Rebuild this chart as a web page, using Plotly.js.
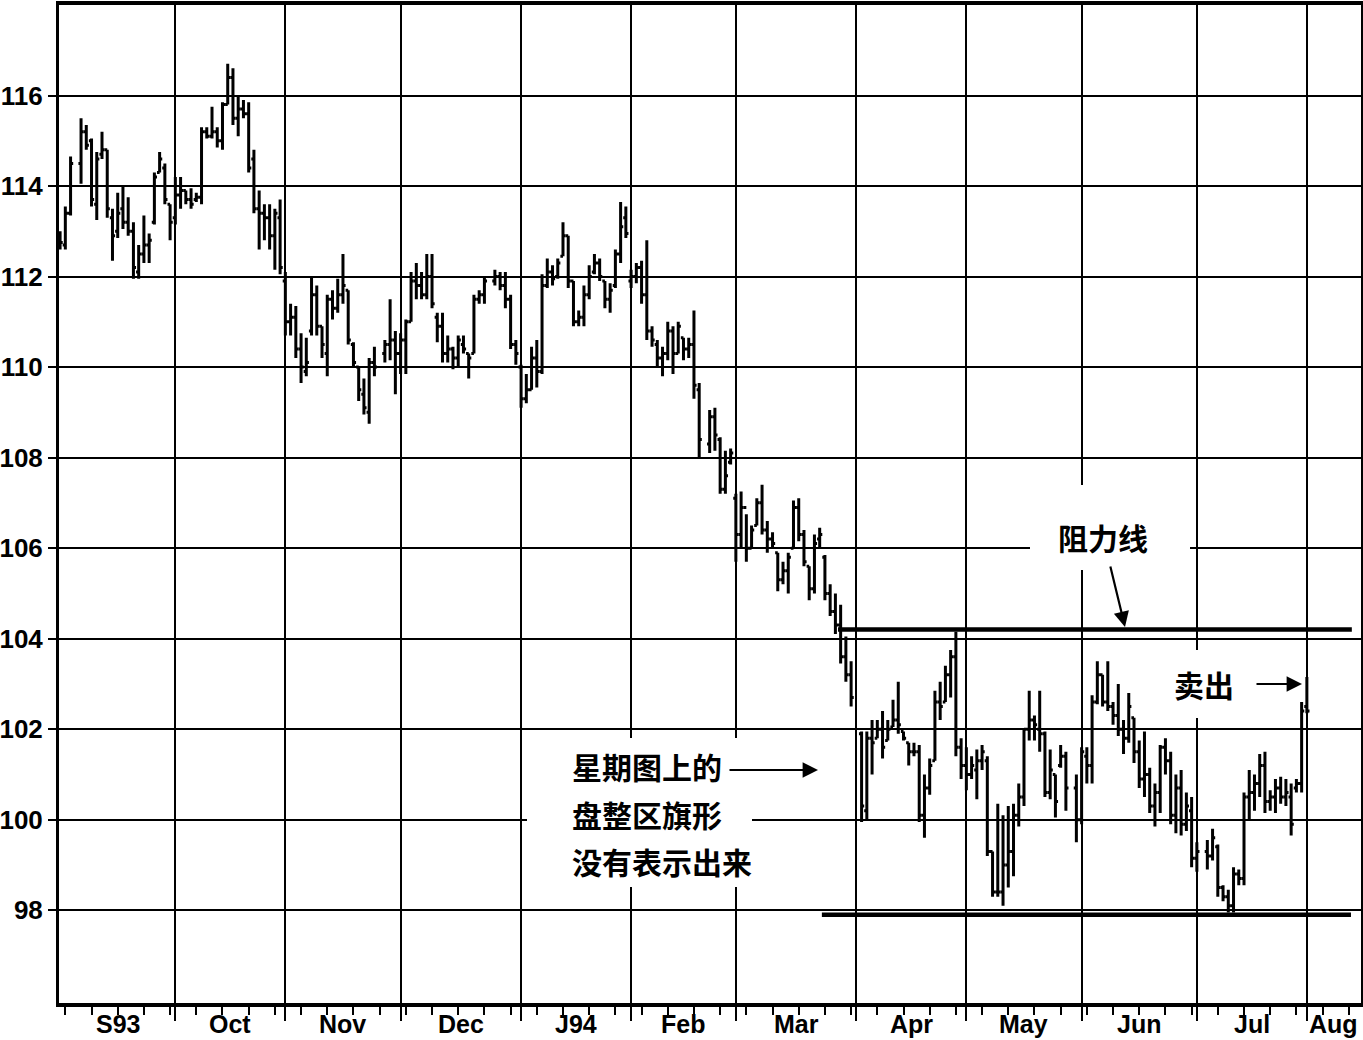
<!DOCTYPE html>
<html>
<head>
<meta charset="utf-8">
<script src="https://cdn.plot.ly/plotly-3.0.1.min.js"></script>
<style>html,body{margin:0;padding:0;background:#fff;}#chart{width:1363px;height:1040px;}</style>
</head>
<body>
<div id="chart"></div>
<script>
// ---------------- DATA (daily bars, Sep 1 1993 .. Aug 1 1994) ----------------
const holidays = ['1993-09-06','1993-11-25','1993-12-24','1994-02-21','1994-04-01','1994-05-30','1994-07-04'];

const openP = [
 // Sep
 112.9,112.7,113.4,114.5,115.2,115.0,113.6,114.7,114.8,113.3,113.0,113.5,113.2,113.0,112.1,112.5,112.7,113.2,114.3,114.4,113.6,
 // Oct
 113.3,113.8,113.9,113.7,113.7,113.75,115.2,115.1,115.2,115.0,115.8,116.4,115.5,115.7,115.6,114.6,113.5,113.4,113.3,112.9,113.3,
 // Nov
 111.9,111.0,111.1,110.4,109.9,110.8,111.6,110.9,110.3,111.5,111.3,111.6,111.7,110.5,110.0,109.4,109.0,110.1,110.3,110.5,110.6,
 // Dec
 110.3,110.6,111.0,111.9,111.8,111.6,112.0,111.1,110.9,110.3,110.4,110.2,110.5,110.3,110.3,111.5,111.6,111.9,112.0,111.8,111.5,110.5,
 // Jan
 110.0,109.3,109.5,110.2,109.9,111.8,112.1,112.0,112.45,112.9,111.9,111.0,111.1,111.6,112.1,112.3,111.9,111.5,111.8,112.5,113.3,
 // Feb
 111.9,112.0,112.2,111.6,110.8,110.5,110.2,110.3,110.8,110.3,110.65,110.4,110.5,109.5,108.3,108.9,108.4,107.3,107.9,
 // Mar
 107.1,106.3,106.9,106.0,106.5,107.0,106.4,106.2,105.9,105.3,105.5,106.0,106.9,106.3,105.6,105.1,106.2,105.8,105.0,104.6,104.3,103.6,103.2,
 // Apr
 101.9,100.2,101.8,101.8,102.0,101.75,102.05,102.2,101.95,101.7,101.5,101.5,100.1,100.7,101.3,102.6,102.6,103.2,103.6,101.6,
 // May
 101.2,101.0,101.1,101.3,101.3,99.3,98.4,98.4,99.0,99.3,100.1,100.5,102.0,102.2,102.0,101.9,100.6,101.0,101.2,101.4,100.7,
 // Jun
 100.0,101.4,101.2,102.6,103.2,102.6,102.5,102.3,102.0,101.8,102.25,101.5,100.9,101.0,100.3,100.6,101.6,101.3,100.1,100.7,99.9,100.2,
 // Jul
 99.15,99.3,99.2,99.4,98.5,98.3,98.1,98.8,98.7,100.5,100.6,100.8,101.2,100.4,100.5,100.7,100.5,100.5,100.7,100.8,
 // Aug
 102.5
];
const highP = [
 113.0,113.55,114.65,115.5,115.35,115.05,114.75,115.2,114.8,113.5,113.85,114.0,113.75,113.2,112.7,113.35,112.95,114.3,114.75,114.5,113.6,
 114.2,114.2,113.9,113.95,113.85,115.3,115.3,115.75,115.3,115.85,116.7,116.6,116.0,115.9,115.85,114.8,113.9,113.6,113.6,113.5,113.7,
 112.1,111.4,111.35,110.75,110.65,112.0,111.8,110.9,111.6,111.7,111.95,112.5,111.7,110.55,110.0,109.75,110.2,110.45,110.6,111.5,110.8,
 110.75,111.05,112.1,112.3,112.1,112.5,112.5,111.2,111.2,110.7,110.45,110.7,110.7,110.3,111.6,111.7,112.0,112.15,112.1,112.1,111.6,110.6,
 110.05,109.85,110.45,110.6,112.05,112.4,112.25,112.4,113.2,112.9,111.9,111.25,111.8,112.25,112.5,112.4,111.9,111.85,112.6,113.65,113.55,
 112.15,112.3,112.35,112.8,110.9,110.6,110.45,111.0,110.9,111.0,110.65,110.65,111.25,109.65,109.05,109.1,108.45,108.15,108.2,
 107.2,107.25,106.75,106.5,107.1,107.4,106.6,106.35,105.9,105.7,105.9,107.05,107.1,106.4,105.6,106.3,106.45,105.85,105.2,105.0,104.75,104.05,103.5,
 101.95,101.95,102.2,102.2,102.4,102.2,102.65,103.05,101.95,101.7,101.7,101.65,101.0,101.35,102.85,103.05,103.4,103.75,104.15,101.8,
 101.6,101.4,101.55,101.65,101.4,99.3,100.35,100.1,100.3,100.35,100.8,102.0,102.85,102.3,102.85,101.95,101.55,101.0,101.65,101.5,101.0,
 101.6,101.6,102.75,103.5,103.2,103.5,102.6,103.0,102.2,102.8,102.25,101.75,101.95,101.15,100.8,101.65,101.8,101.5,101.0,101.1,100.6,100.5,
 99.5,99.55,99.8,99.45,98.55,98.45,98.95,98.9,100.6,101.1,101.0,101.45,101.5,100.65,100.9,100.95,100.9,100.8,100.9,102.6,
 103.15
];
const lowP = [
 112.6,112.6,113.35,114.05,114.8,113.55,113.25,114.6,113.3,112.35,112.85,113.05,112.9,111.95,111.95,112.3,112.3,113.15,114.3,113.6,112.8,
 113.15,113.5,113.6,113.5,113.65,113.6,115.05,115.05,114.85,114.8,115.8,115.35,115.1,115.5,114.3,113.4,112.6,112.8,112.6,112.15,112.05,
 110.7,110.7,110.2,109.65,109.8,110.7,110.7,110.2,109.8,111.05,111.2,111.4,110.5,110.0,109.25,108.95,108.75,109.8,110.1,110.15,109.4,
 109.85,109.85,111.0,111.5,111.5,111.5,111.3,110.55,110.1,110.1,109.95,110.0,110.3,109.75,110.3,111.4,111.4,111.8,111.7,111.3,110.4,110.05,
 109.1,109.2,109.5,109.55,109.85,111.75,111.8,111.95,112.45,111.75,110.9,110.9,110.9,111.5,112.05,111.9,111.3,111.2,111.75,112.3,112.85,
 111.75,111.85,111.4,110.6,110.45,110.0,109.8,110.15,109.85,110.3,110.15,110.2,109.3,108.0,108.1,108.15,107.2,107.2,107.85,
 105.7,106.0,105.7,106.0,106.5,106.3,105.9,106.0,105.05,105.2,105.0,106.0,106.15,105.6,104.85,105.0,106.0,104.85,104.5,104.1,103.45,103.05,102.5,
 99.95,100.0,101.0,101.8,101.35,101.75,102.05,101.9,101.75,101.2,101.4,99.95,99.6,100.55,101.3,102.2,102.6,102.7,101.4,100.9,
 100.65,100.9,100.45,101.1,99.2,98.3,98.3,98.1,98.5,98.75,99.85,100.3,101.75,101.75,101.5,100.5,100.45,100.05,101.15,100.2,99.5,
 99.9,100.8,100.8,102.55,102.5,102.4,102.1,101.85,101.45,101.7,101.25,100.7,100.5,100.15,99.85,100.15,101.0,99.9,99.7,99.65,99.75,98.95,
 98.85,98.9,99.1,98.3,98.2,97.95,97.95,98.55,98.55,100.0,100.2,100.5,100.15,100.2,100.15,100.35,100.3,99.65,100.6,100.6,
 102.35
];
const closeP = [
 112.75,113.4,114.5,115.2,114.9,113.7,114.6,114.8,113.5,112.9,113.4,113.2,113.0,112.2,112.5,112.7,112.8,114.2,114.6,113.7,113.2,
 113.8,113.9,113.7,113.6,113.75,115.2,115.1,115.2,115.0,115.8,116.4,115.5,115.7,115.6,114.4,113.5,113.4,113.3,112.9,113.4,112.2,
 111.0,111.1,110.4,110.0,110.1,111.6,110.9,110.5,111.5,111.3,111.6,111.8,110.6,110.1,109.5,109.1,110.1,110.0,110.5,110.6,110.3,
 110.6,111.0,111.9,111.8,111.6,112.0,111.4,110.9,110.3,110.4,110.2,110.6,110.4,110.2,111.5,111.6,111.9,112.0,111.8,111.5,110.5,110.3,
 109.3,109.5,110.2,109.9,111.8,112.1,111.95,112.3,112.9,111.9,111.0,111.1,111.6,112.0,112.3,112.0,111.5,111.7,112.5,113.1,112.95,
 112.0,112.2,111.6,110.8,110.6,110.2,110.3,110.8,110.3,110.9,110.4,110.5,109.6,108.4,108.9,108.5,107.3,107.6,108.1,
 106.3,106.9,106.0,106.4,107.0,106.4,106.2,106.1,105.3,105.5,105.8,106.9,106.3,105.7,105.1,106.1,106.3,105.0,104.6,104.3,103.6,103.2,102.7,
 100.3,101.8,101.7,102.0,101.6,102.0,102.2,102.1,101.8,101.5,101.5,100.1,100.7,101.2,102.6,102.5,103.2,103.6,101.6,101.2,
 101.0,101.2,101.3,101.5,99.3,98.4,98.4,99.0,99.3,100.1,100.5,102.0,102.2,102.1,101.9,100.6,101.1,100.4,101.4,100.7,100.0,
 101.5,101.2,102.6,103.2,102.6,102.5,102.3,102.0,101.8,102.5,101.5,100.9,101.0,100.3,100.6,101.6,101.3,100.1,100.7,99.9,100.3,99.15,
 99.3,99.2,99.6,98.5,98.3,98.1,98.8,98.7,100.5,100.6,100.8,101.2,100.4,100.5,100.7,100.5,100.6,99.9,100.8,102.4,
 102.4
];

// month boundaries (first weekday of each month) and labels
const monthStarts = ['1993-09-01','1993-10-01','1993-11-01','1993-12-01','1994-01-03','1994-02-01','1994-03-01','1994-04-01','1994-05-02','1994-06-01','1994-07-01','1994-08-01'];
const monthLabels = ['S93','Oct','Nov','Dec','J94','Feb','Mar','Apr','May','Jun','Jul','Aug'];

// horizontal trend lines
const lineLevels = [104.2, 97.9];
const lineStarts = ['1994-03-28 12:00','1994-03-23 10:00'];
const lineEnds   = ['1994-08-11 14:00','1994-08-11 10:00'];

// ---------------- calendar helpers ----------------
const xRange = ['1993-08-31 19:00','1994-08-15 08:00'];
function iso(d){return d.toISOString().slice(0,10);}
const weekdays = [];
(function(){
  const d = new Date(Date.UTC(1993,8,1));
  const end = new Date(Date.UTC(1994,8,1));
  while(d < end){
    const w = d.getUTCDay();
    if(w!==0 && w!==6) weekdays.push(iso(d));
    d.setUTCDate(d.getUTCDate()+1);
  }
})();
const dates = weekdays.filter(s => !holidays.includes(s)).slice(0, closeP.length);

function idxToDate(f){
  const i = Math.floor(f), frac = f - i;
  const h = Math.round(frac*24*60);
  const hh = String(Math.floor(h/60)).padStart(2,'0'), mm = String(h%60).padStart(2,'0');
  return weekdays[i] + ' ' + hh + ':' + mm;
}
const startIdx = monthStarts.map(s => weekdays.indexOf(s));
const endIdx = weekdays.indexOf('1994-08-15') + 8/24;
const labelPos = startIdx.map((s,k) => idxToDate(((k < startIdx.length-1 ? startIdx[k+1] : endIdx) + s)/2));

// ---------------- traces ----------------
const traces = [{
  type:'ohlc', x:dates, open:openP, high:highP, low:lowP, close:closeP,
  increasing:{line:{color:'#000', width:3}},
  decreasing:{line:{color:'#000', width:3}},
  tickwidth:0.5, hoverinfo:'skip', showlegend:false
}];
lineLevels.forEach((lv,k) => traces.push({
  type:'scatter', mode:'lines', x:[lineStarts[k], lineEnds[k]], y:[lv, lv],
  line:{color:'#000', width:4.5}, hoverinfo:'skip', showlegend:false
}));

// paper helpers (plot area 59..1361 x 5..1003)
const PX = p => (p-59)/1302, PY = p => (1003-p)/998;

const cjk = {family:'"Noto Sans CJK SC", sans-serif', size:30, color:'#000', weight:'bold'};
const latin = {family:'"Liberation Sans", Arial, sans-serif', size:25, color:'#000', weight:'bold'};
const ylab = {family:'"Liberation Sans", Arial, sans-serif', size:26, color:'#000', weight:'bold'};
const annotations = monthLabels.map((t,k) => ({
  x: labelPos[k], xref:'x', y: PY(1024), yref:'paper', text:t, showarrow:false,
  xanchor:'center', yanchor:'middle', font:latin
}));
annotations.push(
  {x:PX(1056), y:PY(537), xref:'paper', yref:'paper', text:'阻力线', showarrow:false, xanchor:'left', yanchor:'middle', font:cjk},
  {x:PX(1125), y:PY(627), xref:'paper', yref:'paper', text:'', showarrow:true, ax:-15, ay:-62,
   arrowhead:2, arrowsize:1.4, arrowwidth:2.2, arrowcolor:'#000', standoff:0},
  {x:PX(1172), y:PY(684), xref:'paper', yref:'paper', text:'卖出', showarrow:false, xanchor:'left', yanchor:'middle', font:cjk},
  {x:PX(1302), y:PY(684), xref:'paper', yref:'paper', text:'', showarrow:true, ax:-47, ay:0,
   arrowhead:2, arrowsize:1.4, arrowwidth:2.2, arrowcolor:'#000', standoff:0},
  {x:PX(570), y:PY(766), xref:'paper', yref:'paper', text:'星期图上的', showarrow:false, xanchor:'left', yanchor:'middle', font:cjk},
  {x:PX(570), y:PY(814), xref:'paper', yref:'paper', text:'盘整区旗形', showarrow:false, xanchor:'left', yanchor:'middle', font:cjk},
  {x:PX(570), y:PY(861), xref:'paper', yref:'paper', text:'没有表示出来', showarrow:false, xanchor:'left', yanchor:'middle', font:cjk},
  {x:PX(818), y:PY(770), xref:'paper', yref:'paper', text:'', showarrow:true, ax:-90, ay:0,
   arrowhead:2, arrowsize:1.4, arrowwidth:2.2, arrowcolor:'#000', standoff:0}
);

const whiteBox = (x0,y0,x1,y1) => ({type:'rect', xref:'paper', yref:'paper', x0:PX(x0), x1:PX(x1), y0:PY(y1), y1:PY(y0),
  fillcolor:'#fff', line:{width:0}, layer:'above'});

const layout = {
  width:1363, height:1040,
  margin:{l:59, r:2, t:5, b:37},
  paper_bgcolor:'#fff', plot_bgcolor:'#fff',
  showlegend:false,
  xaxis:{
    type:'date', range:xRange,
    rangebreaks:[{bounds:['sat','mon']}],
    rangeslider:{visible:false},
    tickmode:'array', tickvals:monthStarts.slice(1), showticklabels:false,
    ticks:'outside', ticklen:14, tickwidth:2, tickcolor:'#000',
    showgrid:true, gridcolor:'#000', gridwidth:2,
    minor:{tickmode:'linear', tick0:'1993-09-02', dtick:604800000, ticks:'outside', ticklen:8, tickwidth:2, tickcolor:'#000', showgrid:false},
    showline:true, linecolor:'#000', linewidth:4, mirror:true, zeroline:false, fixedrange:true
  },
  yaxis:{
    range:[95.95, 118.0], tickmode:'array', tickvals:[98,100,102,104,106,108,110,112,114,116],
    ticks:'outside', ticklen:8, tickwidth:2, tickcolor:'#000',
    tickfont:ylab,
    showgrid:true, gridcolor:'#000', gridwidth:2,
    showline:true, linecolor:'#000', linewidth:3, mirror:true, zeroline:false, fixedrange:true
  },
  shapes:[
    whiteBox(1030,485,1190,570),
    whiteBox(1160,650,1245,718),
    whiteBox(527,738,752,887)
  ],
  annotations: annotations
};

Plotly.newPlot('chart', traces, layout, {displayModeBar:false, staticPlot:true});
</script>
</body>
</html>
